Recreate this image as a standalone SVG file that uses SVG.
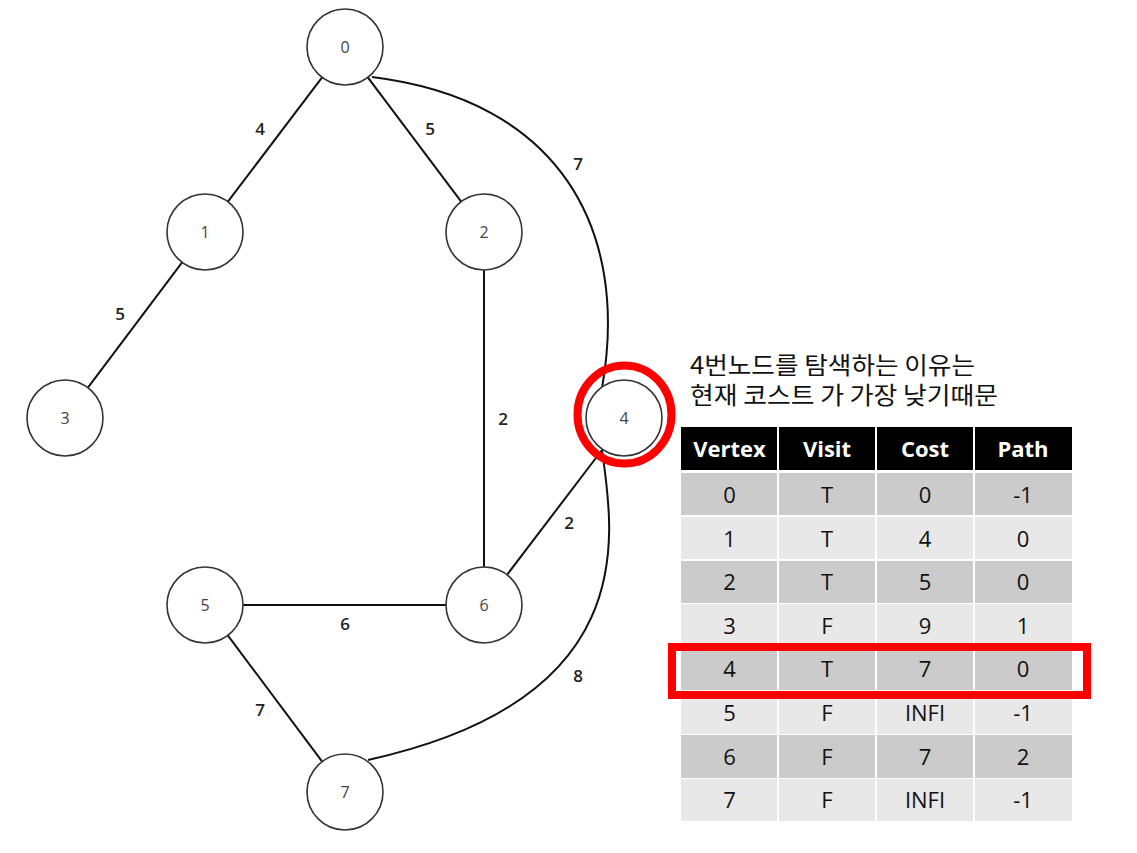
<svg xmlns="http://www.w3.org/2000/svg" width="1137" height="853" viewBox="0 0 1137 853">
<style>
.node circle{fill:#fff;stroke:#333;stroke-width:1.6}
.node text{font-family:"Open Sans","Liberation Sans",sans-serif;font-size:16px;fill:#444;text-anchor:middle;dominant-baseline:central}
.edge{stroke:#111;stroke-width:2;fill:none}
.elabel{font-family:"Open Sans","Liberation Sans",sans-serif;font-size:17px;font-weight:600;fill:#222;text-anchor:middle;dominant-baseline:central}
.note{font-family:"Noto Sans CJK KR","Noto Sans",sans-serif;font-size:24px;fill:#111}
.hd{fill:#000}
.hdt{font-family:"Open Sans","Liberation Sans",sans-serif;font-size:22px;font-weight:700;fill:#fff;text-anchor:middle}
.rd{fill:#cbcbcb}
.rl{fill:#e8e8e8}
.ct{font-family:"Open Sans","Liberation Sans",sans-serif;font-size:22px;fill:#111;text-anchor:middle}
.sep{stroke:#fff;stroke-width:2}
.hl{fill:none;stroke:#ff0000;stroke-width:8}
</style>
<rect width="1137" height="853" fill="#fff"/>
<g id="connectors">
<line class="edge" x1="322.1" y1="77.3" x2="227.9" y2="201.7"/>
<line class="edge" x1="367.8" y1="77.4" x2="461.2" y2="201.6"/>
<line class="edge" x1="182.1" y1="262.4" x2="87.9" y2="387.6"/>
<line class="edge" x1="484" y1="270" x2="484" y2="567"/>
<line class="edge" x1="243" y1="605" x2="446" y2="605"/>
<line class="edge" x1="227.8" y1="635.4" x2="322.2" y2="761.6"/>
<line class="edge" x1="602" y1="450" x2="507" y2="574.8"/>
<path class="edge" d="M372,77 C560,100 630,230 602,388"/>
<path class="edge" d="M602,450 C615,540 640,700 368,760"/>
<text class="elabel" x="260" y="128">4</text>
<text class="elabel" x="430" y="128">5</text>
<text class="elabel" x="578" y="163">7</text>
<text class="elabel" x="120" y="313">5</text>
<text class="elabel" x="503" y="418">2</text>
<text class="elabel" x="569" y="522">2</text>
<text class="elabel" x="345" y="623">6</text>
<text class="elabel" x="260" y="709">7</text>
<text class="elabel" x="578" y="675">8</text>
</g>
<g id="node0" class="node"><circle cx="345" cy="47" r="38"/><text x="345" y="47">0</text></g>
<g id="node1" class="node"><circle cx="205" cy="232" r="38"/><text x="205" y="232">1</text></g>
<g id="node2" class="node"><circle cx="484" cy="232" r="38"/><text x="484" y="232">2</text></g>
<g id="node3" class="node"><circle cx="65" cy="418" r="38"/><text x="65" y="418">3</text></g>
<g id="node4" class="node"><circle cx="624" cy="418" r="38"/><text x="624" y="418">4</text></g>
<g id="node5" class="node"><circle cx="205" cy="605" r="38"/><text x="205" y="605">5</text></g>
<g id="node6" class="node"><circle cx="484" cy="605" r="38"/><text x="484" y="605">6</text></g>
<g id="node7" class="node"><circle cx="345" cy="792" r="38"/><text x="345" y="792">7</text></g>
<ellipse id="highlight-node4" class="hl" cx="624.5" cy="414.5" rx="47" ry="49"/>
<g id="note">
<text class="note" x="690" y="374" textLength="285" lengthAdjust="spacingAndGlyphs">4번노드를 탐색하는 이유는</text>
<text class="note" x="690" y="404" textLength="308" lengthAdjust="spacingAndGlyphs">현재 코스트 가 가장 낮기때문</text>
</g>
<g id="table">
<rect class="hd" x="681" y="427" width="391" height="43"/>
<rect class="rd" x="681" y="473" width="391" height="42"/>
<rect class="rl" x="681" y="517" width="391" height="42"/>
<rect class="rd" x="681" y="561" width="391" height="42"/>
<rect class="rl" x="681" y="604" width="391" height="42"/>
<rect class="rd" x="681" y="648" width="391" height="42"/>
<rect class="rl" x="681" y="691" width="391" height="43"/>
<rect class="rd" x="681" y="735" width="391" height="43"/>
<rect class="rl" x="681" y="779" width="391" height="42"/>
<line class="sep" x1="778" y1="427" x2="778" y2="821"/>
<line class="sep" x1="876" y1="427" x2="876" y2="821"/>
<line class="sep" x1="974" y1="427" x2="974" y2="821"/>
<text class="hdt" x="729.5" y="457">Vertex</text>
<text class="hdt" x="827" y="457">Visit</text>
<text class="hdt" x="925" y="457">Cost</text>
<text class="hdt" x="1023" y="457">Path</text>
<g class="ct">
<text x="729.5" y="503">0</text><text x="827" y="503">T</text><text x="925" y="503">0</text><text x="1023" y="503">-1</text>
<text x="729.5" y="547">1</text><text x="827" y="547">T</text><text x="925" y="547">4</text><text x="1023" y="547">0</text>
<text x="729.5" y="590">2</text><text x="827" y="590">T</text><text x="925" y="590">5</text><text x="1023" y="590">0</text>
<text x="729.5" y="634">3</text><text x="827" y="634">F</text><text x="925" y="634">9</text><text x="1023" y="634">1</text>
<text x="729.5" y="677">4</text><text x="827" y="677">T</text><text x="925" y="677">7</text><text x="1023" y="677">0</text>
<text x="729.5" y="721">5</text><text x="827" y="721">F</text><text x="925" y="721">INFI</text><text x="1023" y="721">-1</text>
<text x="729.5" y="765">6</text><text x="827" y="765">F</text><text x="925" y="765">7</text><text x="1023" y="765">2</text>
<text x="729.5" y="808">7</text><text x="827" y="808">F</text><text x="925" y="808">INFI</text><text x="1023" y="808">-1</text>
</g>
<rect id="highlight-row4" class="hl" x="672" y="647" width="415" height="48"/>
</g>
</svg>
